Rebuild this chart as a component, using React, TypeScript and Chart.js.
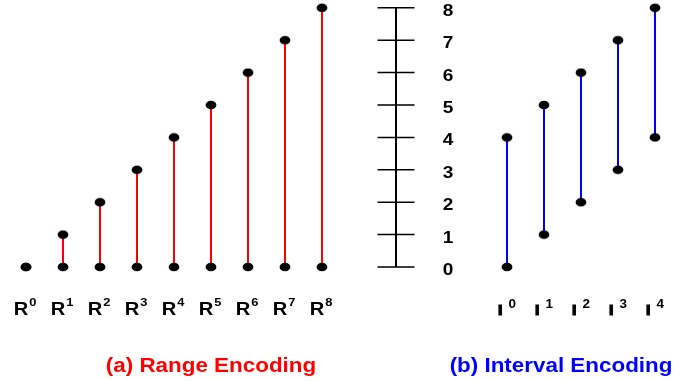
import React, { useEffect, useRef } from 'react';
import { Chart, registerables } from 'chart.js';

Chart.register(...registerables);

// ---- data ----
const rangeIndex = [0, 1, 2, 3, 4, 5, 6, 7, 8];
const rangeLow = [0, 0, 0, 0, 0, 0, 0, 0, 0];
const rangeHigh = [0, 1, 2, 3, 4, 5, 6, 7, 8];
const rangeLabels = ['0', '1', '2', '3', '4', '5', '6', '7', '8'];

const intervalIndex = [13, 14, 15, 16, 17];
const intervalLow = [0, 1, 2, 3, 4];
const intervalHigh = [4, 5, 6, 7, 8];
const intervalLabels = ['0', '1', '2', '3', '4'];

const axisPosition = 10;
const axisTicks = [0, 1, 2, 3, 4, 5, 6, 7, 8];
const axisTickLabels = ['0', '1', '2', '3', '4', '5', '6', '7', '8'];

const titleTexts = ['(a) Range Encoding', '(b) Interval Encoding'];
const titleCenters = [5, 14.46];
const titleColors = ['#ff0000', '#0000ff'];

const FONT = '"Liberation Sans", Arial, Helvetica, sans-serif';
const SX = 1.12;

function segments(xs: number[], lo: number[], hi: number[]) {
  const out: any[] = [];
  xs.forEach((x, i) => {
    out.push({ x, y: lo[i] }, { x, y: hi[i] }, { x, y: null });
  });
  return out;
}

function tickSegments() {
  const out: any[] = [];
  axisTicks.forEach((t) => {
    out.push({ x: axisPosition - 0.5, y: t }, { x: axisPosition + 0.5, y: t }, { x: axisPosition, y: null });
  });
  return out;
}

function setFont(ctx: CanvasRenderingContext2D, size: number) {
  ctx.font = `bold ${size}px ${FONT}`;
}
function textW(ctx: CanvasRenderingContext2D, s: string, size: number) {
  setFont(ctx, size);
  return ctx.measureText(s).width * SX;
}
function drawText(ctx: CanvasRenderingContext2D, s: string, x: number, y: number, size: number, color: string, align: CanvasTextAlign = 'left', stroke = 0) {
  ctx.save();
  setFont(ctx, size);
  ctx.fillStyle = color;
  ctx.textAlign = align;
  ctx.textBaseline = 'alphabetic';
  ctx.translate(x, y);
  ctx.scale(SX, 1);
  ctx.fillText(s, 0, 0);
  if (stroke > 0) {
    ctx.strokeStyle = color;
    ctx.lineWidth = stroke;
    ctx.strokeText(s, 0, 0);
  }
  ctx.restore();
}

const textPlugin = {
  id: 'textPlugin',
  afterDraw(chart: any) {
    const { ctx, scales } = chart;
    const xs = scales.x;
    const ys = scales.y;
    const base = ys.getPixelForValue(0) + 48;

    // range labels R^i
    rangeIndex.forEach((idx, i) => {
      const px = xs.getPixelForValue(idx);
      const wR = textW(ctx, 'R', 18);
      const wS = textW(ctx, rangeLabels[i], 11.5);
      const total = wR + 1 + wS;
      const start = px - total / 2 - 1;
      drawText(ctx, 'R', start, base, 18, '#000');
      drawText(ctx, rangeLabels[i], start + wR + 1, base - 9.5, 11.5, '#000');
    });

    // interval labels I^j
    intervalIndex.forEach((idx, i) => {
      const px = xs.getPixelForValue(idx);
      const wI = textW(ctx, 'I', 14);
      const wS = textW(ctx, intervalLabels[i], 12);
      const total = wI + 6 + wS;
      const start = px - total / 2;
      drawText(ctx, 'I', start, base, 14, '#000', 'left', 1.2);
      drawText(ctx, intervalLabels[i], start + wI + 6, base - 7.5, 12, '#000');
    });

    // axis tick labels
    const ax = xs.getPixelForValue(axisPosition);
    axisTicks.forEach((t, i) => {
      const py = ys.getPixelForValue(t);
      drawText(ctx, axisTickLabels[i], ax + 52, py + 8, 17, '#000', 'center');
    });

    // titles
    titleTexts.forEach((s, i) => {
      drawText(ctx, s, xs.getPixelForValue(titleCenters[i]), base + 57, 20, titleColors[i], 'center');
    });
  },
};

function makeDot() {
  const c = document.createElement('canvas');
  c.width = 12;
  c.height = 10;
  const g = c.getContext('2d')!;
  g.fillStyle = '#000';
  g.beginPath();
  g.ellipse(6, 5, 5.4, 4.3, 0, 0, Math.PI * 2);
  g.fill();
  return c;
}

export default function App() {
  const ref = useRef<HTMLCanvasElement | null>(null);

  useEffect(() => {
    document.body.style.margin = '0';
    const canvas = ref.current!;
    const dot = makeDot();
    const W = 694;
    const H = 381;
    const x0 = 26;
    const ux = 37;
    const y0 = 267;
    const uy = 32.4;

    const chart = new Chart(canvas, {
      type: 'scatter',
      data: {
        datasets: [
          {
            data: [{ x: axisPosition, y: axisTicks[0] }, { x: axisPosition, y: axisTicks[axisTicks.length - 1] }],
            showLine: true,
            borderColor: '#000',
            borderWidth: 2,
            pointRadius: 0,
          },
          {
            data: tickSegments(),
            showLine: true,
            borderColor: '#000',
            borderWidth: 1.5,
            pointRadius: 0,
          },
          {
            data: segments(rangeIndex, rangeLow, rangeHigh),
            showLine: true,
            borderColor: '#ff0000',
            borderWidth: 2,
            pointStyle: dot as any,
            pointRadius: 5,
            pointBackgroundColor: '#000',
            pointBorderColor: '#000',
          },
          {
            data: segments(intervalIndex, intervalLow, intervalHigh),
            showLine: true,
            borderColor: '#0000ff',
            borderWidth: 2,
            pointStyle: dot as any,
            pointRadius: 5,
            pointBackgroundColor: '#000',
            pointBorderColor: '#000',
          },
        ],
      },
      options: {
        responsive: false,
        animation: false,
        events: [],
        layout: { padding: 0, autoPadding: false },
        plugins: { legend: { display: false }, tooltip: { enabled: false } },
        scales: {
          x: { type: 'linear', display: false, min: -x0 / ux, max: (W - x0) / ux },
          y: { type: 'linear', display: false, min: -(H - y0) / uy, max: y0 / uy },
        },
      } as any,
      plugins: [textPlugin],
    });
    return () => chart.destroy();
  }, []);

  return <canvas ref={ref} width={694} height={381} style={{ display: 'block' }} />;
}
